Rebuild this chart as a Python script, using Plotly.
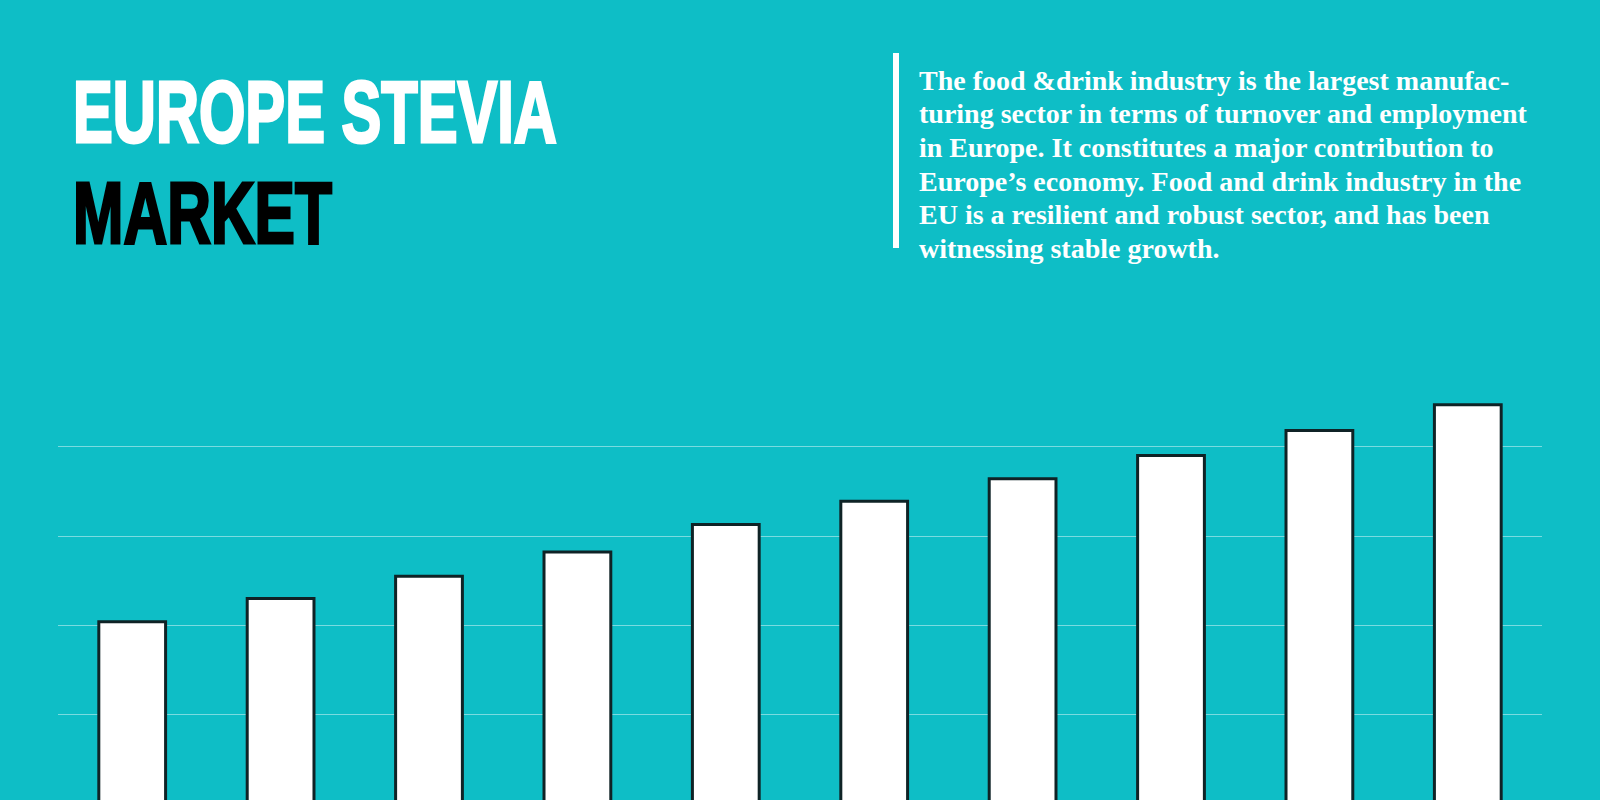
import plotly.graph_objects as go

# bar chart data (no labels shown on the picture, only the bars)
years = ["2019", "2020", "2021", "2022", "2023", "2024", "2025", "2026", "2027", "2028"]
market_size = [2.04, 2.30, 2.55, 2.82, 3.13, 3.39, 3.64, 3.90, 4.18, 4.47]
grid_ticks = [1, 2, 3, 4]

title_top = "EUROPE STEVIA"
title_bottom = "MARKET"
blurb_lines = [
    "The food &drink industry is the largest manufac-",
    "turing sector in terms of turnover and employment",
    "in Europe. It constitutes a major contribution to",
    "Europe\u2019s economy. Food and drink industry in the",
    "EU is a resilient and robust sector, and has been",
    "witnessing stable growth.",
]

W, H = 1600, 800
teal = "#0EBEC6"
title_font = "Liberation Sans, Arial, sans-serif"

fig = go.Figure()
fig.add_trace(go.Bar(
    x=years, y=market_size,
    marker=dict(color="white", line=dict(color="#0F2326", width=3)),
    hoverinfo="skip",
))

fig.update_layout(
    width=W, height=H,
    paper_bgcolor=teal, plot_bgcolor=teal,
    margin=dict(l=0, r=0, t=0, b=0),
    showlegend=False,
    bargap=0.55,
    xaxis=dict(domain=[58 / W, 1542 / W], showticklabels=False, showgrid=False,
               zeroline=False, showline=False, ticks=""),
    yaxis=dict(domain=[0, 500 / H], range=[0.045, 5.642], tickvals=grid_ticks,
               showticklabels=False, showgrid=True, gridcolor="#7ADBE0", gridwidth=1,
               zeroline=False, showline=False, ticks=""),
)

# big title, two lines in two colours
fig.add_annotation(text="<b>" + title_top + "</b>", x=71 / W, y=1 - 111 / H,
                   xref="paper", yref="paper", xanchor="left", yanchor="middle",
                   showarrow=False, font=dict(family=title_font, size=87, color="white"))
fig.add_annotation(text="<b>" + title_bottom + "</b>", x=71 / W, y=1 - 212 / H,
                   xref="paper", yref="paper", xanchor="left", yanchor="middle",
                   showarrow=False, font=dict(family=title_font, size=87, color="black"))

# side text with a white bar on its left
fig.add_shape(type="rect", xref="paper", yref="paper",
              x0=893 / W, x1=899 / W, y0=1 - 248 / H, y1=1 - 53 / H,
              fillcolor="white", line=dict(width=0))
for i, line in enumerate(blurb_lines):
    fig.add_annotation(text="<b>" + line + "</b>", x=917 / W, y=1 - (80.5 + i * 33.5) / H,
                       xref="paper", yref="paper", xanchor="left", yanchor="middle",
                       showarrow=False,
                       font=dict(family="Liberation Serif, Times New Roman, serif", size=28, color="white"))

# no page margin; make the title heavy and narrow like the poster type
js = """
document.body.style.margin = '0';
var widths = {'EUROPE STEVIA': 484, 'MARKET': 259};
document.querySelectorAll('.annotation-text').forEach(function (t) {
  var s = t.textContent;
  if (widths[s]) {
    var col = s === 'MARKET' ? 'black' : 'white';
    t.style.stroke = col;
    t.style.strokeWidth = '3px';
    t.style.strokeLinejoin = 'miter';
    var b = t.getBBox();
    var k = widths[s] / b.width;
    t.setAttribute('transform',
      'translate(' + b.x + ',0) scale(' + k + ',1) translate(' + (-b.x) + ',0)');
  }
});
"""
fig.write_html("out.html", post_script=js, config={"displayModeBar": False})
